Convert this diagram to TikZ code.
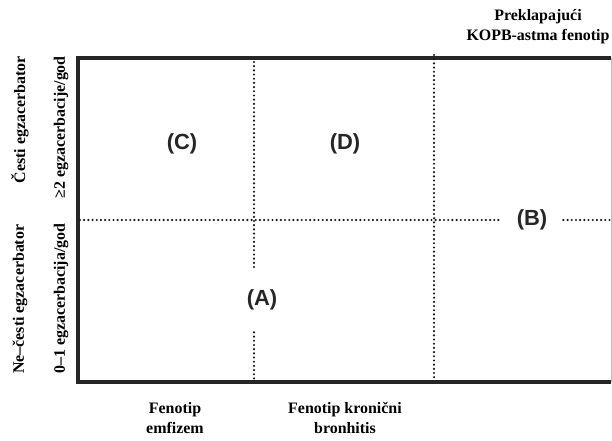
\documentclass[tikz,border=0pt]{standalone}
\usepackage{fontspec}
\setmainfont{Liberation Serif}
\newfontfamily\arialfont{Liberation Sans}
\usetikzlibrary{positioning}

\tikzset{
  lbl/.style={font=\bfseries\fontsize{16}{20}\selectfont, align=center, inner sep=0pt},
  pheno/.style={font=\arialfont\bfseries\fontsize{22}{24}\selectfont, text=black!85, inner sep=0pt},
  dots/.style={line width=2.4pt, line cap=round, dash pattern=on 0pt off 4.2pt, black!90},
  frame/.style={line width=4pt, black!85}
}

\begin{document}
\begin{tikzpicture}[x=1bp,y=-1bp]
  \useasboundingbox (0,0) rectangle (612,441);
  \coordinate (tl) at (78,58);
  \coordinate (tr) at (611,58);
  \coordinate (bl) at (78,382);
  \coordinate (br) at (611,382);
  \draw[frame] (tr) -- (tl) -- (bl) -- (br);
  \draw[gray!50, thin] (tr) -- (br);

  \node[pheno] (C) at (182,144) {(C)};
  \node[pheno] (D) at (345,144) {(D)};
  \node[pheno, inner xsep=16bp] (B) at (532,220) {(B)};
  \node[pheno, inner ysep=22bp] (A) at (262,300) {(A)};

  \coordinate (hl) at (80,220);
  \coordinate (hr) at (611,220);
  \coordinate (va) at (254,62);
  \coordinate (vb) at (254,380);
  \coordinate (wa) at (434,55);
  \coordinate (wb) at (434,380);
  \draw[dots] (hl) -- (hl -| B.west);
  \draw[dots] (hr -| B.east) -- (hr);
  \draw[dots] (va) -- (va |- A.north);
  \draw[dots] (vb |- A.south) -- (vb);
  \draw[dots] (wa) -- (wb);

  \node[lbl] (ovl) at (538,27) {Preklapajući\\KOPB-astma fenotip};
  \node[lbl] (emf) at (175,418) {Fenotip\\emfizem};
  \node[lbl] (kbr) at (345,418) {Fenotip kronični\\bronhitis};

  \node[lbl, rotate=90, anchor=east] (freq) at (20,56) {Česti egzacerbator};
  \node[lbl, rotate=90, anchor=east] (freqn) at (61,56) {≥2 egzacerbacije/god};
  \node[lbl, rotate=90, anchor=west] (rare) at (20,374) {Ne--česti egzacerbator};
  \node[lbl, rotate=90, anchor=west] (raren) at (61,374) {0--1 egzacerbacija/god};
\end{tikzpicture}
\end{document}
